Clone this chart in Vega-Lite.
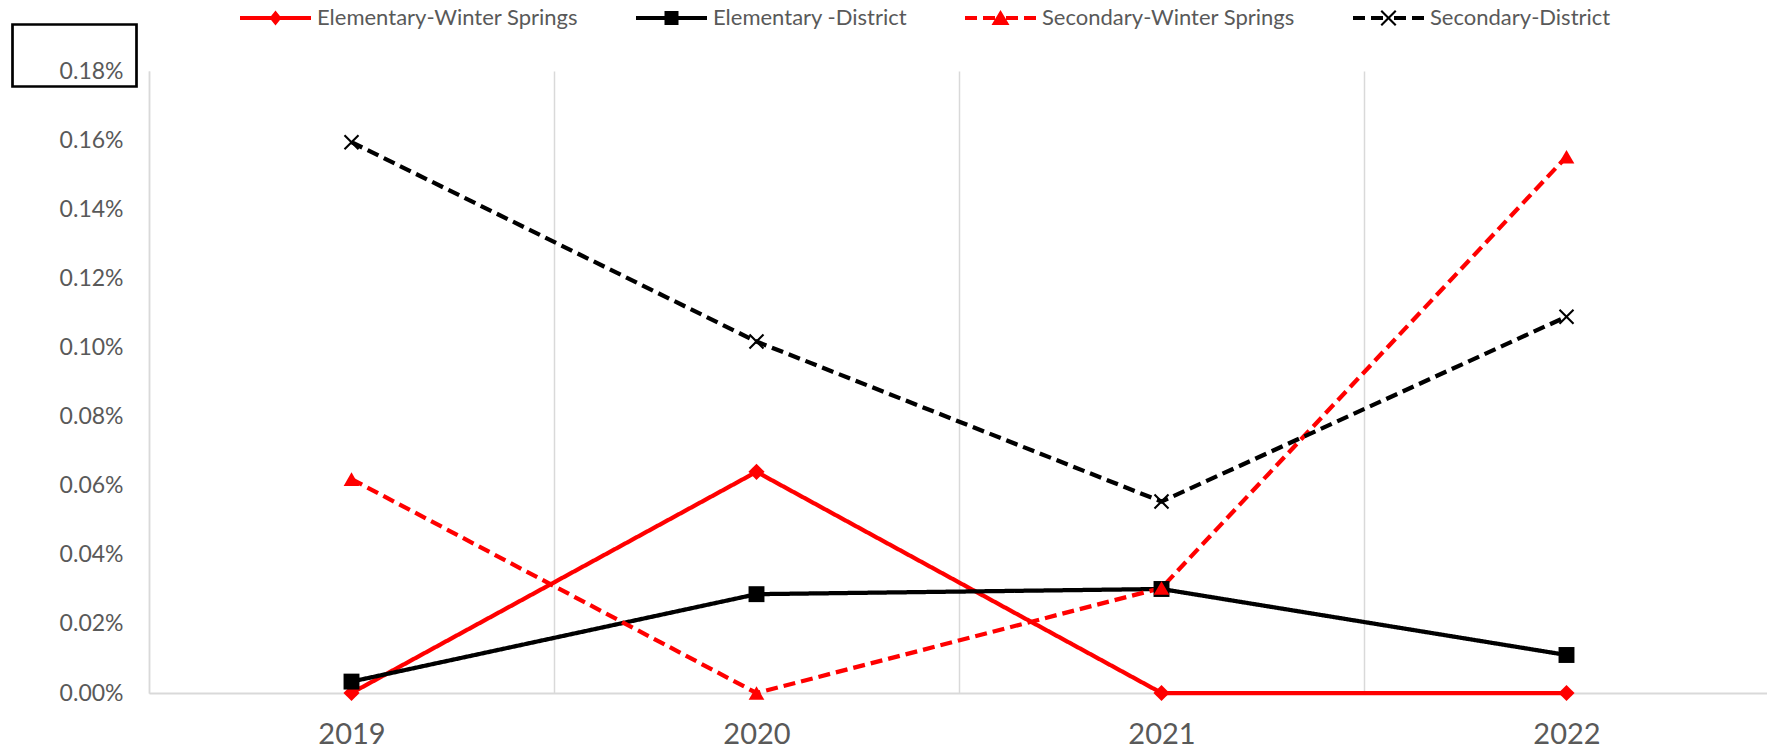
{
  "$schema": "https://vega.github.io/schema/vega-lite/v6.json",
  "autosize": {"type": "none"},
  "width": 1620,
  "height": 622,
  "padding": {"left": 149, "top": 71, "right": 0, "bottom": 57},
  "config": {"font": "Lato", "view": {"stroke": null}},
  "data": {"values": [
    {"series": "Elementary-Winter Springs", "year": 2019, "rate": 0},
    {"series": "Elementary-Winter Springs", "year": 2020, "rate": 0.00064},
    {"series": "Elementary-Winter Springs", "year": 2021, "rate": 0},
    {"series": "Elementary-Winter Springs", "year": 2022, "rate": 0},
    {"series": "Elementary -District", "year": 2019, "rate": 0.000033},
    {"series": "Elementary -District", "year": 2020, "rate": 0.000286},
    {"series": "Elementary -District", "year": 2021, "rate": 0.000301},
    {"series": "Elementary -District", "year": 2022, "rate": 0.00011},
    {"series": "Secondary-Winter Springs", "year": 2019, "rate": 0.000619},
    {"series": "Secondary-Winter Springs", "year": 2020, "rate": 0},
    {"series": "Secondary-Winter Springs", "year": 2021, "rate": 0.000304},
    {"series": "Secondary-Winter Springs", "year": 2022, "rate": 0.001552},
    {"series": "Secondary-District", "year": 2019, "rate": 0.001594},
    {"series": "Secondary-District", "year": 2020, "rate": 0.001017},
    {"series": "Secondary-District", "year": 2021, "rate": 0.000554},
    {"series": "Secondary-District", "year": 2022, "rate": 0.001089}
  ]},
  "encoding": {
    "x": {
      "field": "year", "type": "ordinal", "bandPosition": 0.5,
      "scale": {"type": "band", "paddingInner": 0, "paddingOuter": 0},
      "axis": {
        "title": null, "labelAngle": 0, "grid": true, "tickBand": "extent",
        "gridColor": "#D9D9D9", "gridWidth": 1.5,
        "domainColor": "#D9D9D9", "domainWidth": 2,
        "ticks": false, "tickSize": 0,
        "labelFont": "Lato", "labelFontSize": 29, "labelColor": "#595959", "labelPadding": 27
      }
    },
    "y": {
      "field": "rate", "type": "quantitative",
      "scale": {"domain": [0, 0.0018], "nice": false, "zero": true},
      "axis": {
        "title": null, "grid": false, "format": ".2%",
        "values": [0, 0.0002, 0.0004, 0.0006, 0.0008, 0.001, 0.0012, 0.0014, 0.0016, 0.0018],
        "domainColor": "#D9D9D9", "domainWidth": 1.5,
        "ticks": false, "tickSize": 0,
        "labelFont": "Lato", "labelFontSize": 23, "labelColor": "#595959", "labelPadding": 26
      }
    }
  },
  "resolve": {"scale": {"color": "independent", "shape": "independent"}},
  "layer": [
    {
      "mark": {"type": "line", "strokeWidth": 4.25, "strokeJoin": "round"},
      "encoding": {
        "color": {"field": "series", "type": "nominal", "legend": null,
          "scale": {"domain": ["Elementary-Winter Springs", "Elementary -District", "Secondary-Winter Springs", "Secondary-District"],
                    "range": ["#FF0000", "#000000", "#FF0000", "#000000"]}},
        "strokeDash": {"field": "series", "type": "nominal", "legend": null,
          "scale": {"domain": ["Elementary-Winter Springs", "Elementary -District", "Secondary-Winter Springs", "Secondary-District"],
                    "range": [[1, 0], [1, 0], [12, 6], [12, 6]]}},
        "opacity": {"datum": "frame", "type": "nominal", "scale": {"range": [1, 1]},
          "legend": {
            "orient": "none", "legendX": -77, "legendY": -18, "title": null,
            "symbolSize": 4, "symbolType": "M-62,-31H62V31H-62Z",
            "symbolStrokeColor": "black", "symbolFillColor": "transparent",
            "symbolStrokeWidth": 2.7, "symbolOpacity": 1,
            "labelExpr": "''", "labelFontSize": 1, "padding": 0
          }}
      }
    },
    {
      "mark": {"type": "point", "filled": true, "opacity": 1, "strokeWidth": 0},
      "encoding": {
        "color": {"field": "series", "type": "nominal", "legend": null,
          "scale": {"domain": ["Elementary-Winter Springs", "Elementary -District", "Secondary-Winter Springs", "Secondary-District"],
                    "range": ["#FF0000", "#000000", "#FF0000", "#000000"]}},
        "shape": {"field": "series", "type": "nominal", "legend": null,
          "scale": {"domain": ["Elementary-Winter Springs", "Elementary -District", "Secondary-Winter Springs", "Secondary-District"],
                    "range": ["diamond", "square", "triangle-up", "M-1,-0.81L-0.81,-1L0,-0.19L0.81,-1L1,-0.81L0.19,0L1,0.81L0.81,1L0,0.19L-0.81,1L-1,0.81L-0.19,0Z"]}},
        "size": {"field": "series", "type": "nominal", "legend": null,
          "scale": {"domain": ["Elementary-Winter Springs", "Elementary -District", "Secondary-Winter Springs", "Secondary-District"],
                    "range": [260, 240, 380, 300]}}
      }
    },
    {
      "transform": [{"filter": "false"}],
      "mark": {"type": "point", "filled": true, "opacity": 1, "strokeWidth": 0},
      "encoding": {
        "color": {"field": "series", "type": "nominal",
          "scale": {"domain": ["Elementary-Winter Springs", "Elementary -District", "Secondary-Winter Springs", "Secondary-District"],
                    "range": ["#FF0000", "#000000", "#FF0000", "#000000"]},
          "legend": {
            "orient": "none", "legendX": 115.5, "legendY": -64, "direction": "horizontal",
            "title": null, "symbolSize": 4, "symbolStrokeWidth": 0, "symbolOpacity": 1,
            "padding": 0, "labelLimit": 0,
            "labelFont": "Lato", "labelFontSize": 22, "labelColor": "#595959",
            "labelOffset": 30.5, "columnPadding": 57
          }},
        "shape": {"field": "series", "type": "nominal",
          "scale": {"domain": ["Elementary-Winter Springs", "Elementary -District", "Secondary-Winter Springs", "Secondary-District"],
                    "range": [
                      "M-35.5,-2H35.5V2H-35.5ZM0,-7.5L6,0L0,7.5L-6,0Z",
                      "M-35.5,-2H35.5V2H-35.5ZM-7,-7H7V7H-7Z",
                      "M-35.5,-2H-23.5V2H-35.5ZM-17.5,-2H-5.5V2H-17.5ZM5.5,-2H17.5V2H5.5ZM23.5,-2H35.5V2H23.5ZM0,-8L9,7H-9Z",
                      "M-35.5,-2H-23.5V2H-35.5ZM-17.5,-2H-5.5V2H-17.5ZM5.5,-2H17.5V2H5.5ZM23.5,-2H35.5V2H23.5ZM-8,-6.5L-6.5,-8L0,-1.5L6.5,-8L8,-6.5L1.5,0L8,6.5L6.5,8L0,1.5L-6.5,8L-8,6.5L-1.5,0Z"
                    ]}}
      }
    }
  ]
}
